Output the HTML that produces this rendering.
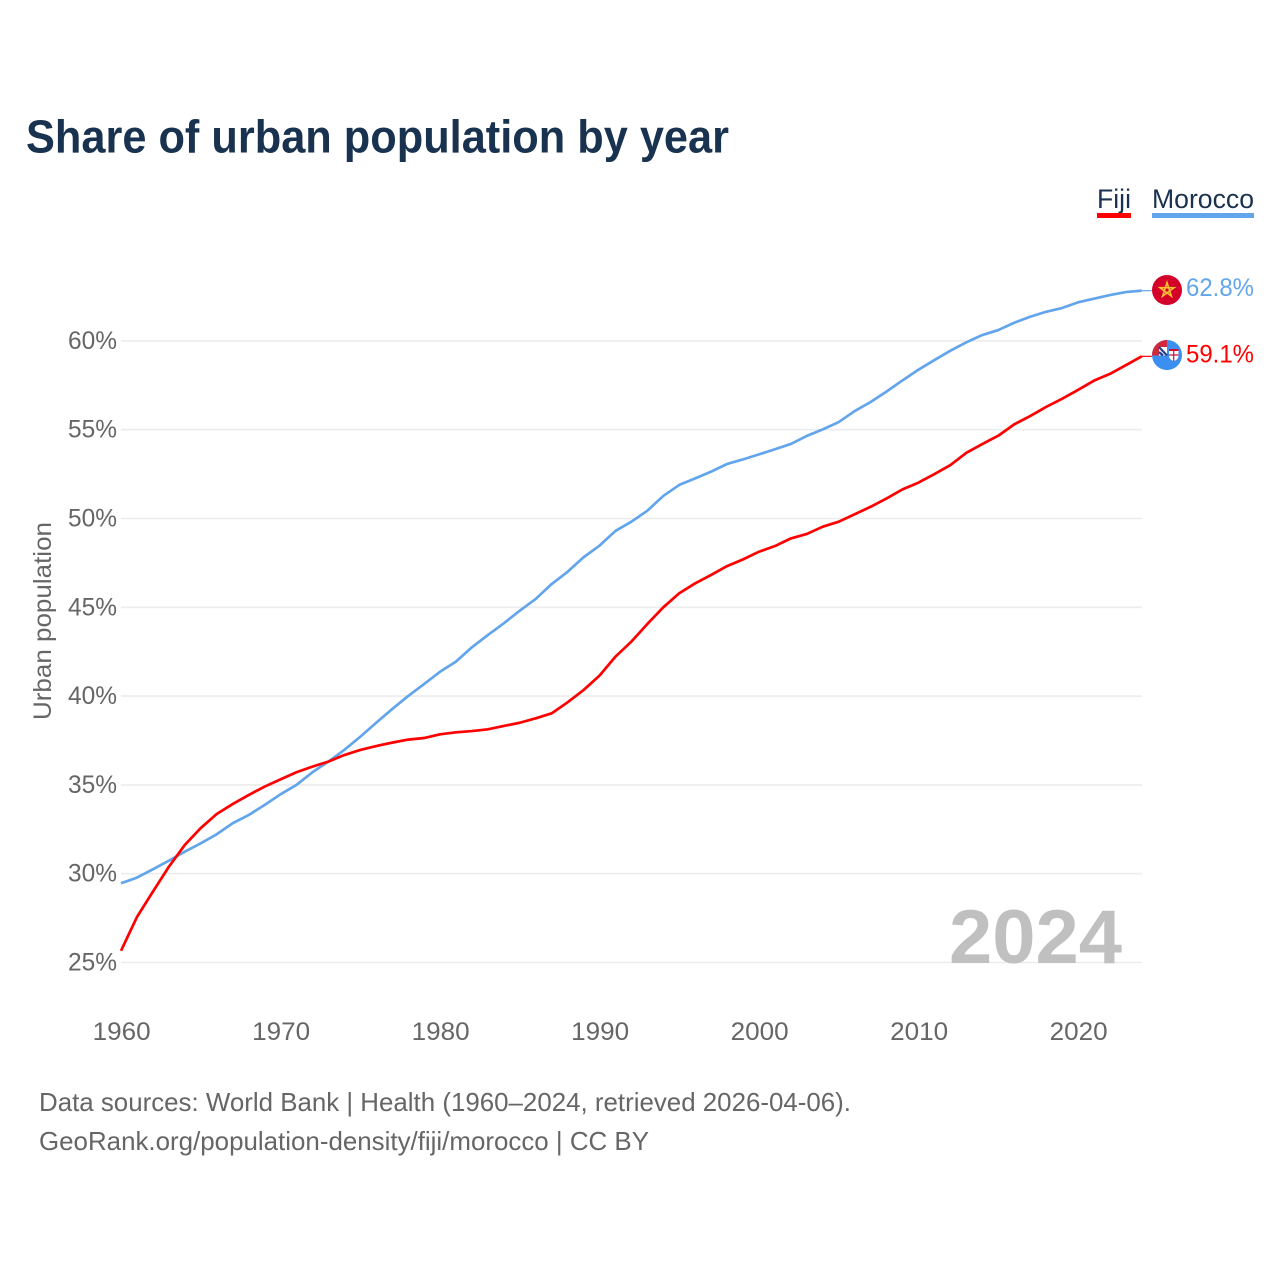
<!DOCTYPE html>
<html>
<head>
<meta charset="utf-8">
<style>
html,body{margin:0;padding:0;background:#fff}
svg{display:block}
text{font-family:"Liberation Sans",sans-serif}
</style>
</head>
<body>
<svg id="chart" width="1280" height="1280" viewBox="0 0 1280 1280" xmlns="http://www.w3.org/2000/svg">
  <rect width="1280" height="1280" fill="#ffffff"/>
  <text x="26" y="152.5" font-size="46" font-weight="700" fill="#18324f" textLength="703" lengthAdjust="spacingAndGlyphs">Share of urban population by year</text>
  <g id="grid"></g>
  <g id="yticks"></g>
  <g id="xticks"></g>
  <text transform="translate(51,720) rotate(-90)" font-size="25" fill="#666666" textLength="198" lengthAdjust="spacingAndGlyphs">Urban population</text>
  <text x="1122" y="963" text-anchor="end" font-size="76" font-weight="700" fill="#c0c0c0" textLength="173" lengthAdjust="spacingAndGlyphs">2024</text>
  <g id="series"></g>

  <g>
    <text x="1097" y="208" font-size="27" fill="#18324f" textLength="34" lengthAdjust="spacingAndGlyphs">Fiji</text>
    <rect x="1097" y="213" width="34" height="5" fill="#ff0000"/>
  </g>
  <g>
    <text x="1152" y="208" font-size="27" fill="#18324f" textLength="102" lengthAdjust="spacingAndGlyphs">Morocco</text>
    <rect x="1152" y="213" width="102" height="5" fill="#62a5ec"/>
  </g>

  <g>
    <circle cx="1167" cy="290" r="15" fill="#d4002a"/>
    <polygon points="1167,282.5 1171.4,296.1 1159.9,287.7 1174.1,287.7 1162.6,296.1" fill="none" stroke="#f6c12f" stroke-width="1.6"/>
  </g>
  <g>
    <defs><clipPath id="fiji-clip"><circle cx="1167" cy="355" r="15"/></clipPath></defs>
    <g clip-path="url(#fiji-clip)">
      <rect x="1152" y="340" width="30" height="30" fill="#3a8fef"/>
      <rect x="1152" y="340" width="15" height="15.5" fill="#d2283c"/>
      <rect x="1159" y="347" width="8" height="8.5" fill="#ffffff"/>
      <path d="M1159 347 L1167 355.5 M1159 352 L1163 355.5" stroke="#24408e" stroke-width="2.2"/>
      <path d="M1169 349 H1178.5 V356 Q1178 360 1173.7 361 Q1169.5 360 1169 356 Z" fill="#ffffff"/>
      <path d="M1169 350 H1178.5" stroke="#d21034" stroke-width="2"/>
      <path d="M1173.7 351 V361 M1169 355 H1178.5" stroke="#d21034" stroke-width="1.2"/>
    </g>
  </g>
  <text x="1186" y="296" font-size="25" fill="#62a5ec" textLength="68" lengthAdjust="spacingAndGlyphs">62.8%</text>
  <text x="1186" y="362.5" font-size="25" fill="#ff0000" textLength="68" lengthAdjust="spacingAndGlyphs">59.1%</text>

  <text x="39" y="1111" font-size="26" fill="#666666" textLength="812" lengthAdjust="spacingAndGlyphs">Data sources: World Bank | Health (1960–2024, retrieved 2026-04-06).</text>
  <text x="39" y="1150" font-size="26" fill="#666666" textLength="610" lengthAdjust="spacingAndGlyphs">GeoRank.org/population-density/fiji/morocco | CC BY</text>
</svg>
<script>
const startYear = 1960;
const moroccoValues = [29.46,29.78,30.25,30.73,31.24,31.71,32.22,32.84,33.3,33.87,34.47,35.0,35.71,36.31,36.97,37.71,38.5,39.27,40.0,40.68,41.37,41.94,42.75,43.44,44.1,44.81,45.47,46.31,47.0,47.82,48.47,49.3,49.82,50.44,51.27,51.89,52.26,52.64,53.07,53.33,53.61,53.9,54.2,54.65,55.02,55.43,56.05,56.56,57.15,57.78,58.38,58.92,59.45,59.92,60.33,60.61,61.02,61.36,61.64,61.85,62.17,62.38,62.58,62.75,62.83];
const fijiValues = [25.66,27.56,28.99,30.39,31.62,32.57,33.36,33.92,34.43,34.9,35.31,35.71,36.03,36.31,36.68,36.97,37.19,37.38,37.55,37.64,37.85,37.96,38.03,38.13,38.32,38.5,38.75,39.03,39.65,40.34,41.15,42.22,43.07,44.06,45.0,45.79,46.35,46.82,47.32,47.7,48.13,48.45,48.88,49.13,49.54,49.82,50.24,50.66,51.13,51.64,52.02,52.5,53.01,53.7,54.19,54.66,55.3,55.77,56.28,56.74,57.24,57.76,58.14,58.63,59.13];
const yTickValues = [25,30,35,40,45,50,55,60];
const xTickYears = [1960,1970,1980,1990,2000,2010,2020];

const SVG_NS = 'http://www.w3.org/2000/svg';
function xScale(year){ return 121 + (year - 1960) * 15.95; }
function yScale(v){ return 962.5 - (v - 25) * 17.76; }

const grid = document.getElementById('grid');
const yticks = document.getElementById('yticks');
const xticks = document.getElementById('xticks');
const series = document.getElementById('series');

yTickValues.forEach(function(v){
  const line = document.createElementNS(SVG_NS, 'line');
  
  
  line.setAttribute('x1', 121);
  line.setAttribute('x2', 1142);
  line.setAttribute('y1', yScale(v));
  line.setAttribute('y2', yScale(v));
  line.setAttribute('stroke', '#ececec');
  line.setAttribute('stroke-width', 1.6);
  grid.appendChild(line);
  const t = document.createElementNS(SVG_NS, 'text');
  
  
  t.setAttribute('x', 117);
  t.setAttribute('y', yScale(v) + 8);
  t.setAttribute('text-anchor', 'end');
  t.setAttribute('font-size', 25);
  t.setAttribute('fill', '#666666');
  t.setAttribute('textLength', 49);
  t.setAttribute('lengthAdjust', 'spacingAndGlyphs');
  t.textContent = v + '%';
  yticks.appendChild(t);
});

xTickYears.forEach(function(y){
  const t = document.createElementNS(SVG_NS, 'text');
  
  
  t.setAttribute('x', xScale(y) + 0.7);
  t.setAttribute('y', 1040);
  t.setAttribute('text-anchor', 'middle');
  t.setAttribute('font-size', 25);
  t.setAttribute('fill', '#666666');
  t.setAttribute('textLength', 58);
  t.setAttribute('lengthAdjust', 'spacingAndGlyphs');
  t.textContent = y;
  xticks.appendChild(t);
});

function drawLine(values, color, name){
  const pts = values.map(function(v, i){ return xScale(startYear + i).toFixed(2) + ',' + yScale(v).toFixed(2); });
  const last = values[values.length - 1];
  const lastX = xScale(startYear + values.length - 1);
  const p = document.createElementNS(SVG_NS, 'polyline');
  
  
  p.setAttribute('points', pts.join(' '));
  p.setAttribute('fill', 'none');
  p.setAttribute('stroke', color);
  p.setAttribute('stroke-width', 2.7);
  p.setAttribute('stroke-linejoin', 'round');
  series.appendChild(p);
  const c = document.createElementNS(SVG_NS, 'line');
  
  
  c.setAttribute('x1', lastX);
  c.setAttribute('x2', lastX + 10);
  c.setAttribute('y1', yScale(last));
  c.setAttribute('y2', yScale(last));
  c.setAttribute('stroke', color);
  c.setAttribute('stroke-width', 1.2);
  series.appendChild(c);
}
drawLine(moroccoValues, '#62a5ec', 'morocco-line');
drawLine(fijiValues, '#ff0000', 'fiji-line');
</script>
</body>
</html>
